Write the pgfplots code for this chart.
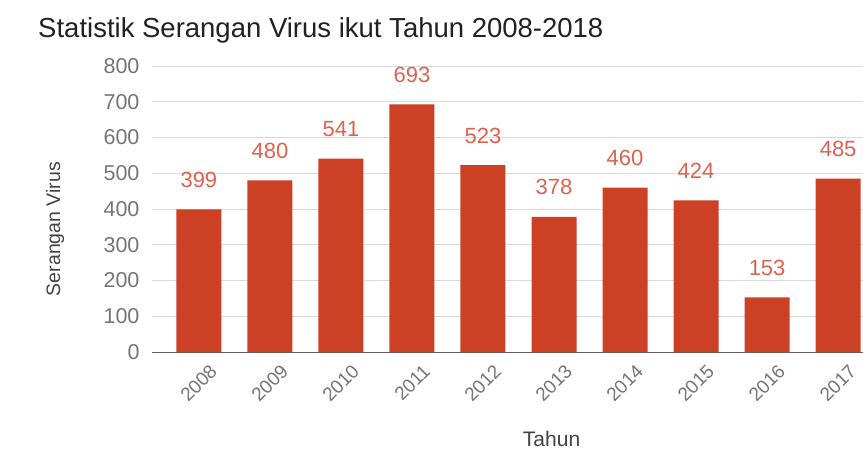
\documentclass[border=0pt]{standalone}
\usepackage{pgfplots}
\pgfplotsset{compat=1.18}
\usepackage{fontspec}
\setmainfont{Liberation Sans}
\definecolor{barc}{RGB}{204,65,37}
\definecolor{labc}{RGB}{224,98,78}
\definecolor{tickc}{RGB}{117,117,117}
\definecolor{gridc}{RGB}{218,218,218}
\definecolor{titc}{RGB}{33,33,33}
\begin{document}
\begin{tikzpicture}[x=1pt,y=1pt]
\useasboundingbox (-152,-99) rectangle (711,352);
\begin{axis}[
  at={(0,0)}, anchor=south west,
  scale only axis, width=711pt, height=286pt,
  ymin=0, ymax=800, xmin=-0.66, xmax=9.35,
  ytick={0,100,...,800},
  xtick=data,
  xticklabels={2008,2009,2010,2011,2012,2013,2014,2015,2016,2017},
  ymajorgrids, grid style={gridc, line width=0.8pt},
  extra y ticks={0}, extra y tick labels={},
  extra y tick style={grid style={tickc!80!black, line width=1pt}},
  axis line style={draw=none},
  major tick length=0pt,
  /pgf/number format/assume math mode=true,
  yticklabel style={font=\fontsize{21.5}{25}\selectfont, text=tickc, xshift=-9pt},
  xticklabel style={font=\fontsize{19}{23}\selectfont, text=tickc, rotate=45, anchor=east, inner sep=1pt, xshift=0pt, yshift=-22pt},
  ybar, bar width=45pt,
  nodes near coords,
  every node near coord/.append style={font=\fontsize{22}{26}\selectfont, text=labc, anchor=base, inner sep=0pt, yshift=22pt},
  title={Statistik Serangan Virus ikut Tahun 2008-2018},
  title style={at={(axis description cs:-0.1603,1.077)}, anchor=base west, font=\fontsize{27.5}{32}\selectfont, text=titc, inner sep=0pt},
  ylabel={Serangan Virus},
  ylabel style={at={(axis description cs:-0.1364,0.43)}, anchor=center, font=\fontsize{19.5}{23}\selectfont, text=titc!85, inner sep=0pt},
  xlabel={Tahun},
  xlabel style={at={(axis description cs:0.562,-0.3287)}, anchor=base, font=\fontsize{21}{25}\selectfont, text=titc!85, inner sep=0pt},
]
\addplot[fill=barc, draw=none] coordinates {
(0,399) (1,480) (2,541) (3,693) (4,523) (5,378) (6,460) (7,424) (8,153) (9,485)
};
\end{axis}
\end{tikzpicture}
\end{document}
